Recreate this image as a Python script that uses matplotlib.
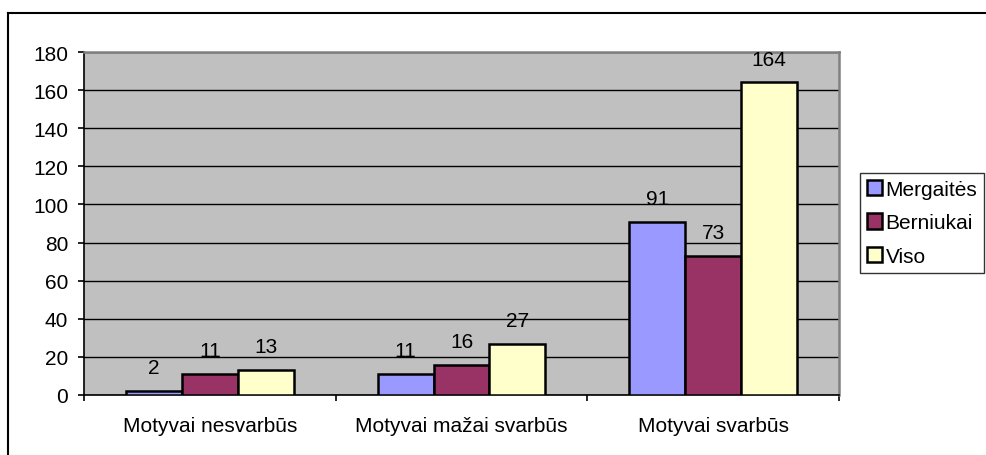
import numpy as np
import matplotlib
matplotlib.use("Agg")
import matplotlib.pyplot as plt
from matplotlib.lines import Line2D

plt.rcParams['font.family'] = ['Liberation Sans', 'DejaVu Sans']

categories = ["Motyvai nesvarbūs", "Motyvai mažai svarbūs", "Motyvai svarbūs"]
series_names = ["Mergaitės", "Berniukai", "Viso"]
mergaites = [2, 11, 91]
berniukai = [11, 16, 73]
viso = [13, 27, 164]
colors = ["#9999FF", "#993366", "#FFFFCC"]

FS = 15

fig = plt.figure(figsize=(9.86, 4.56), dpi=100)
ax = fig.add_axes([84 / 986, 1 - 396 / 456, (839 - 84) / 986, (396 - 53) / 456])
ax.set_facecolor("#C0C0C0")

x = np.arange(len(categories))
w = 0.667 / 3
for i, (vals, name, c) in enumerate(zip([mergaites, berniukai, viso], series_names, colors)):
    pos = x - w + i * w
    ax.bar(pos, vals, width=w, color=c, edgecolor="black", linewidth=1.8, label=name, zorder=3)
    for p, v in zip(pos, vals):
        ax.annotate(str(v), (p, v), xytext=(0, 10), textcoords="offset points",
                    ha="center", va="bottom", fontsize=FS)

ax.set_xlim(-0.5, 2.5)
ax.set_ylim(0, 180)
ax.set_yticks(range(0, 181, 20))
ax.yaxis.grid(True, color="black", linewidth=1.0)
ax.set_axisbelow(True)

ax.set_xticks(x)
ax.set_xticklabels(categories, fontsize=FS)
ax.tick_params(axis="x", length=0, pad=15)
ax.set_xticks([-0.5, 0.5, 1.5, 2.5], minor=True)
ax.tick_params(axis="x", which="minor", length=4.5, width=1.2, color="black")
ax.tick_params(axis="y", length=4.5, width=1.2, labelsize=FS, pad=7)

for s in ["top", "right"]:
    ax.spines[s].set_color("#808080")
    ax.spines[s].set_linewidth(1.8)
for s in ["left", "bottom"]:
    ax.spines[s].set_color("black")
    ax.spines[s].set_linewidth(1.2)

leg = fig.legend(loc="upper left", bbox_to_anchor=(860 / 986, 1 - 174 / 456),
                 fontsize=FS, frameon=True, fancybox=False, edgecolor="black",
                 handlelength=0.75, handleheight=0.75, handletextpad=0.15,
                 labelspacing=0.7, borderpad=0.32, borderaxespad=0)
leg.get_frame().set_linewidth(1.0)
for h in leg.legend_handles:
    h.set_linewidth(1.8)

# outer chart border (left and top visible)
fig.add_artist(Line2D([8 / 986, 8 / 986], [0, 1 - 14 / 456], transform=fig.transFigure,
                      color="black", linewidth=1.5))
fig.add_artist(Line2D([8 / 986, 1], [1 - 14 / 456, 1 - 14 / 456], transform=fig.transFigure,
                      color="black", linewidth=1.5))

fig.savefig("out.png", dpi=100)
